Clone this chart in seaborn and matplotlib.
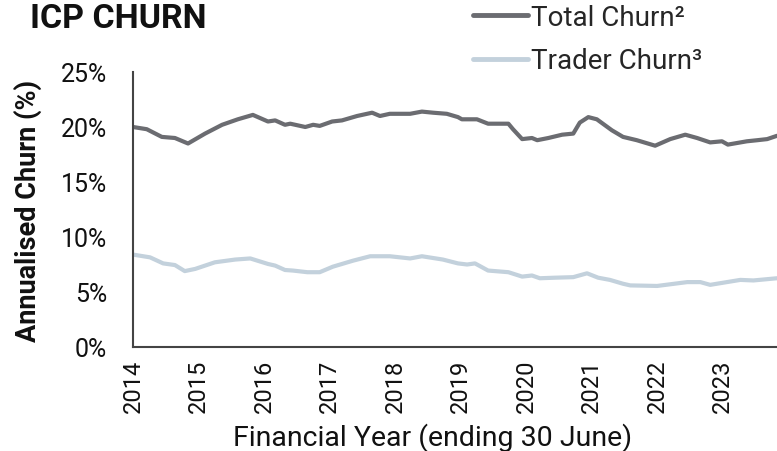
import matplotlib
matplotlib.use("Agg")
import matplotlib.pyplot as plt
import seaborn as sns
import pandas as pd

# ---- data ----
total_x = [2014.00, 2014.21, 2014.44, 2014.64, 2014.84, 2015.10, 2015.36, 2015.60, 2015.83,
           2016.06, 2016.17, 2016.32, 2016.40, 2016.63, 2016.75, 2016.85, 2017.04, 2017.19,
           2017.42, 2017.65, 2017.77, 2017.92, 2018.23, 2018.41, 2018.58, 2018.79, 2018.96,
           2019.02, 2019.25, 2019.42, 2019.73, 2019.80, 2019.94, 2020.09, 2020.17, 2020.34,
           2020.55, 2020.72, 2020.82, 2020.95, 2021.08, 2021.31, 2021.48, 2021.69, 2021.97,
           2022.20, 2022.43, 2022.61, 2022.81, 2022.99, 2023.08, 2023.37, 2023.53, 2023.68, 2023.83]
total_churn = [20.0, 19.8, 19.1, 19.0, 18.5, 19.4, 20.2, 20.7, 21.1,
               20.5, 20.6, 20.2, 20.3, 20.0, 20.2, 20.1, 20.5, 20.6,
               21.0, 21.3, 21.0, 21.2, 21.2, 21.4, 21.3, 21.2, 20.9,
               20.7, 20.7, 20.3, 20.3, 19.8, 18.9, 19.0, 18.8, 19.0,
               19.3, 19.4, 20.4, 20.9, 20.7, 19.7, 19.1, 18.8, 18.3,
               18.9, 19.3, 19.0, 18.6, 18.7, 18.4, 18.7, 18.8, 18.9, 19.2]

trader_x = [2014.00, 2014.26, 2014.46, 2014.64, 2014.79, 2014.95, 2015.25, 2015.56, 2015.79,
            2016.06, 2016.17, 2016.32, 2016.44, 2016.66, 2016.85, 2017.05, 2017.36, 2017.62,
            2017.92, 2018.23, 2018.41, 2018.73, 2018.96, 2019.10, 2019.22, 2019.42, 2019.73,
            2019.94, 2020.09, 2020.21, 2020.44, 2020.72, 2020.93, 2021.10, 2021.28, 2021.48,
            2021.59, 2022.00, 2022.46, 2022.66, 2022.81, 2023.27, 2023.47, 2023.83]
trader_churn = [8.4, 8.15, 7.6, 7.45, 6.9, 7.1, 7.7, 7.95, 8.05,
                7.55, 7.4, 7.0, 6.95, 6.8, 6.8, 7.3, 7.85, 8.25,
                8.25, 8.05, 8.25, 7.95, 7.6, 7.5, 7.6, 6.95, 6.8,
                6.4, 6.5, 6.25, 6.3, 6.35, 6.7, 6.3, 6.1, 5.75,
                5.6, 5.55, 5.9, 5.9, 5.65, 6.1, 6.05, 6.25]

series_names = ["Total Churn²", "Trader Churn³"]
year_ticks = [2014, 2015, 2016, 2017, 2018, 2019, 2020, 2021, 2022, 2023]
pct_ticks = [0, 5, 10, 15, 20, 25]

df = pd.concat([
    pd.DataFrame({"year": total_x, "churn": total_churn, "series": series_names[0]}),
    pd.DataFrame({"year": trader_x, "churn": trader_churn, "series": series_names[1]}),
])

sns.set_theme(style="white")
plt.rcParams['font.family'] = ['Roboto', 'DejaVu Sans']

fig = plt.figure(figsize=(7.77, 4.52), dpi=100)
ax = fig.add_axes([133/777, 1-348/452, 1-133/777, (348-73)/452])

palette = {series_names[0]: "#6b6c71", series_names[1]: "#c3d1dc"}
sns.lineplot(data=df, x="year", y="churn", hue="series", palette=palette,
             linewidth=3.0, ax=ax, legend=False, sort=True, estimator=None)

ax.set_xlim(2014, 2023.83)
ax.set_ylim(0, 25)
ax.set_xticks(year_ticks)
ax.set_xticklabels([str(y) for y in year_ticks], rotation=90, fontsize=17, color="#111111")
ax.set_yticks(pct_ticks)
ax.set_yticklabels([f"{p}%" for p in pct_ticks], fontsize=18, color="#111111")
ax.tick_params(axis="both", direction="out", length=6.5, width=1.3, color="#444444")
ax.tick_params(axis="y", pad=12)
ax.tick_params(axis="x", pad=2)

for s in ["top", "right"]:
    ax.spines[s].set_visible(False)
for s in ["left", "bottom"]:
    ax.spines[s].set_color("#444444")
    ax.spines[s].set_linewidth(1.5)

ax.set_xlabel("Financial Year (ending 30 June)", fontsize=20.5, color="#111111")
ax.xaxis.set_label_coords((433-133)/644, -(423-348)/275)
ax.set_ylabel("Annualised Churn (%)", fontsize=19.5, fontweight="bold", color="#111111")
ax.yaxis.set_label_coords(-(133-42)/644, 0.5)

fig.text(30/777, 1-19/452, "ICP CHURN", fontsize=24.5, fontweight="bold",
         color="#111111", va="center", ha="left")

handles = [plt.Line2D([], [], color=palette[n], linewidth=3.5) for n in series_names]
fig.legend(handles, series_names, loc="upper left", bbox_to_anchor=(470/777, 0.996),
           frameon=False, fontsize=20, handlelength=2.0, handletextpad=0.1,
           labelspacing=0.6, borderaxespad=0.0, borderpad=0.1)

fig.savefig("out.png", dpi=100)
